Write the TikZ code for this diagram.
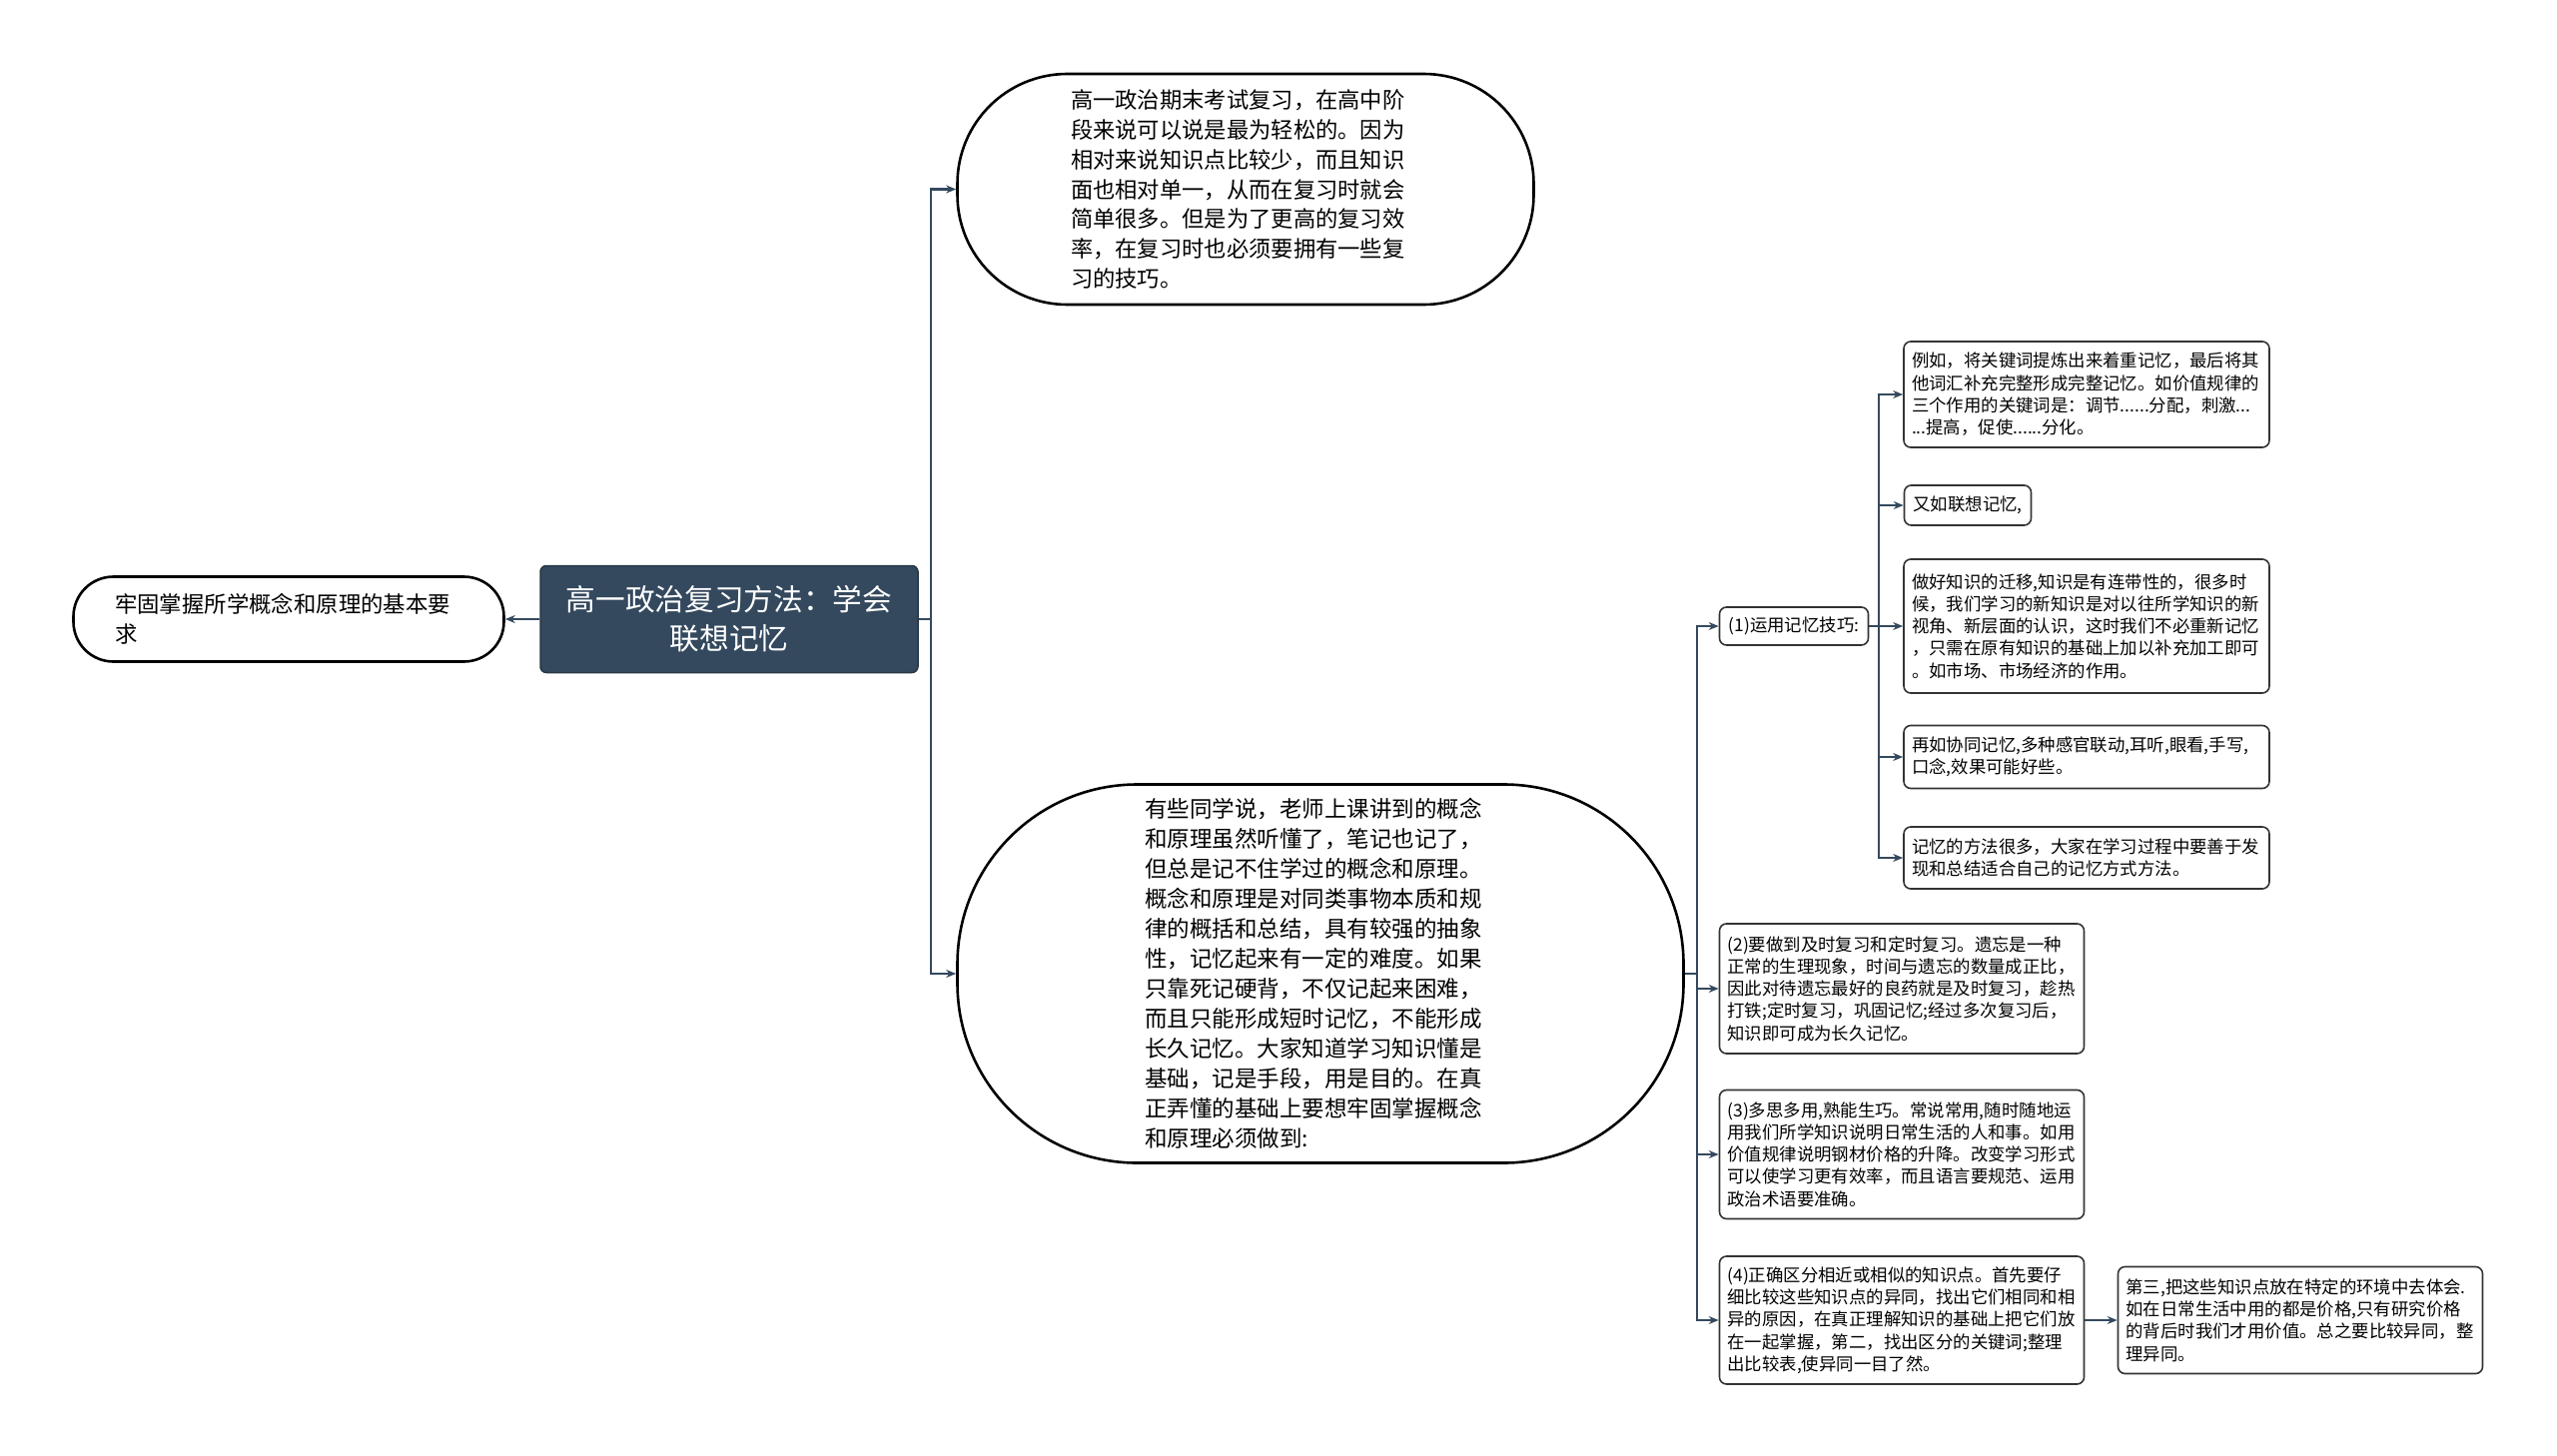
\documentclass[tikz,border=0pt]{standalone}
\usepackage{fontspec}
\setmainfont{Noto Sans CJK SC}
\usepackage{xcolor}
\usetikzlibrary{arrows.meta}

\definecolor{rootfill}{HTML}{34495E}
\definecolor{linkcol}{HTML}{34495E}
\definecolor{boxline}{HTML}{333333}

\tikzset{
  bigtopic/.style={draw=black, line width=2.6pt, align=left, inner sep=0pt},
  leaf/.style={draw=boxline, line width=1.6pt, rounded corners=7pt, align=left,
    inner xsep=8pt, inner ysep=0pt, font=\fontsize{17.4pt}{22.3pt}\selectfont},
  link/.style={draw=linkcol, line width=2.2pt},
  arr/.style={link, -{Stealth[length=10pt,width=8pt]}},
}

\begin{document}
\begin{tikzpicture}[x=1pt,y=-1pt]
    \useasboundingbox (0,0) rectangle (2560,1458);

    % Root node and the node on its left
    \node[draw=rootfill!75!black, line width=1.5pt, fill=rootfill, text=white,
      rounded corners=6pt, align=center, minimum width=378, minimum height=107,
      font=\fontsize{29.7pt}{39pt}\selectfont] (root) at (730,620)
      {高一政治复习方法：学会\\联想记忆};
    \node[bigtopic, rounded corners=40pt, minimum width=431, minimum height=85,
      text width=348, font=\fontsize{22.4pt}{29.5pt}\selectfont] (basic) at (289,620)
      {牢固掌握所学概念和原理的基本要\\求};
    \draw[arr] (root.west) -- (basic.east);

    % Two big topics on the right of the root
    \node[bigtopic, rounded corners=110pt, minimum width=577, minimum height=231,
      text width=350, font=\fontsize{22.3pt}{29.8pt}\selectfont] (intro) at (1247,189.5)
      {高一政治期末考试复习，在高中阶\\段来说可以说是最为轻松的。因为\\相对来说知识点比较少，而且知识\\面也相对单一，从而在复习时就会\\简单很多。但是为了更高的复习效\\率，在复习时也必须要拥有一些复\\习的技巧。};
    \node[bigtopic, rounded corners=180pt, minimum width=727, minimum height=379,
      text width=352, font=\fontsize{22.5pt}{30pt}\selectfont] (concept) at (1322,975)
      {有些同学说，老师上课讲到的概念\\和原理虽然听懂了，笔记也记了，\\但总是记不住学过的概念和原理。\\概念和原理是对同类事物本质和规\\律的概括和总结，具有较强的抽象\\性，记忆起来有一定的难度。如果\\只靠死记硬背，不仅记起来困难，\\而且只能形成短时记忆，不能形成\\长久记忆。大家知道学习知识懂是\\基础，记是手段，用是目的。在真\\正弄懂的基础上要想牢固掌握概念\\和原理必须做到:};
    \coordinate (fork1) at (932,620);
    \draw[link] (root.east) -- (fork1);
    \draw[arr] (fork1) |- (intro.west);
    \draw[arr] (fork1) |- (concept.west);

    % The four ways to do it
    \node[leaf, minimum width=149, minimum height=38] (skill) at (1796,627)
      {(1)运用记忆技巧:};
    \node[leaf, text width=349, minimum width=365, minimum height=130] (review) at (1904,990)
      {(2)要做到及时复习和定时复习。遗忘是一种\\正常的生理现象，时间与遗忘的数量成正比，\\因此对待遗忘最好的良药就是及时复习，趁热\\打铁;定时复习，巩固记忆;经过多次复习后，\\知识即可成为长久记忆。};
    \node[leaf, text width=349, minimum width=365, minimum height=129] (use) at (1904,1156)
      {(3)多思多用,熟能生巧。常说常用,随时随地运\\用我们所学知识说明日常生活的人和事。如用\\价值规律说明钢材价格的升降。改变学习形式\\可以使学习更有效率，而且语言要规范、运用\\政治术语要准确。};
    \node[leaf, text width=349, minimum width=365, minimum height=128] (compare) at (1904,1322)
      {(4)正确区分相近或相似的知识点。首先要仔\\细比较这些知识点的异同，找出它们相同和相\\异的原因，在真正理解知识的基础上把它们放\\在一起掌握，第二，找出区分的关键词;整理\\出比较表,使异同一目了然。};
    \coordinate (fork2) at (1699,975);
    \draw[link] (concept.east) -- (fork2);
    \foreach \n in {skill,review,use,compare}
      \draw[arr] (fork2) |- (\n.west);

    % Memory tricks under (1)
    \node[leaf, text width=350, minimum width=366, minimum height=106] (keyword) at (2089,395)
      {例如，将关键词提炼出来着重记忆，最后将其\\他词汇补充完整形成完整记忆。如价值规律的\\三个作用的关键词是：调节......分配，刺激...\\...提高，促使......分化。};
    \node[leaf, minimum width=127, minimum height=40] (assoc) at (1970,506)
      {又如联想记忆,};
    \node[leaf, text width=350, minimum width=366, minimum height=134] (transfer) at (2089,627)
      {做好知识的迁移,知识是有连带性的，很多时\\候，我们学习的新知识是对以往所学知识的新\\视角、新层面的认识，这时我们不必重新记忆\\，只需在原有知识的基础上加以补充加工即可\\。如市场、市场经济的作用。};
    \node[leaf, text width=350, minimum width=366, minimum height=63] (senses) at (2089,758)
      {再如协同记忆,多种感官联动,耳听,眼看,手写,\\口念,效果可能好些。};
    \node[leaf, text width=350, minimum width=366, minimum height=62] (many) at (2089,859)
      {记忆的方法很多，大家在学习过程中要善于发\\现和总结适合自己的记忆方式方法。};
    \coordinate (fork3) at (1881,627);
    \draw[link] (skill.east) -- (fork3);
    \foreach \n in {keyword,assoc,transfer,senses,many}
      \draw[arr] (fork3) |- (\n.west);

    % Third step after (4)
    \node[leaf, text width=349, minimum width=365, minimum height=107] (third) at (2303,1322)
      {第三,把这些知识点放在特定的环境中去体会.\\如在日常生活中用的都是价格,只有研究价格\\的背后时我们才用价值。总之要比较异同，整\\理异同。};
    \draw[arr] (compare.east) -- (third.west);

\end{tikzpicture}
\end{document}
